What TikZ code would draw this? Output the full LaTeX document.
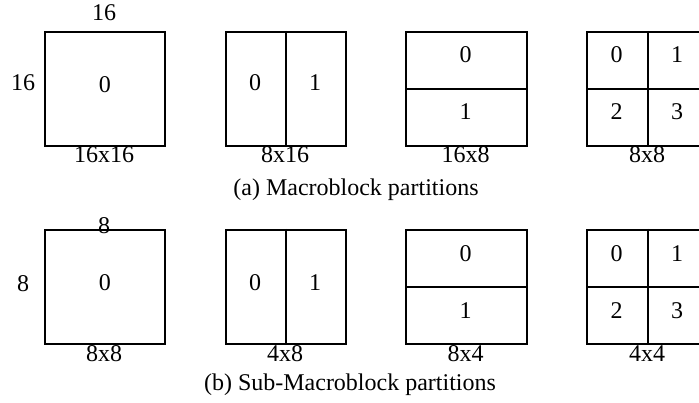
\documentclass[tikz,border=0pt]{standalone}
\usepackage{fontspec}
\setmainfont{Liberation Serif}
\begin{document}
\begin{tikzpicture}[x=1pt,y=-1pt,
  blk/.style={draw, line width=1.6pt, minimum width=#1, minimum height=114pt, inner sep=0pt, anchor=north west},
  blk/.default=120pt,
  part/.style={line width=1.6pt},
  num/.style={font=\fontsize{24}{26}\selectfont, inner sep=0pt, text height=0.68em, text depth=0pt},
  caption/.style={font=\fontsize{24}{26}\selectfont, inner sep=0pt, anchor=base}]
\useasboundingbox (0,0) rectangle (699,403);
\clip (0,0) rectangle (699,403);

% ---- row (a): macroblock partitions ----
\node[blk] (a1) at (44,31) {};
\node[blk] (a2) at (225,31) {};
\node[blk=121pt] (a3) at (405,31) {};
\node[blk=122pt] (a4) at (586,31) {};
\draw[part] (a2.north) -- (a2.south);
\draw[part] (a3.west) -- (a3.east);
\draw[part] (a4.north) -- (a4.south);
\draw[part] (a4.west) -- (a4.east);

\node[num] (a1t) at (104,17) {16};
\node[num] (a1l) at (23,87) {16};
\node[num] (a1c) at (a1.center) {0};
\node[num] (a2c0) at (255,87) {0};
\node[num] (a2c1) at (315,87) {1};
\node[num] (a3c0) at (465.5,59) {0};
\node[num] (a3c1) at (465.5,116) {1};
\node[num] (a4c0) at (616.5,59) {0};
\node[num] (a4c1) at (677,59) {1};
\node[num] (a4c2) at (616.5,116) {2};
\node[num] (a4c3) at (677,116) {3};

\node[num] (a1s) at (104,159) {16x16};
\node[num] (a2s) at (285,159) {8x16};
\node[num] (a3s) at (465.5,159) {16x8};
\node[num] (a4s) at (647,159) {8x8};
\node[caption] (acap) at (356,196) {(a) Macroblock partitions};

% ---- row (b): sub-macroblock partitions ----
\node[blk] (b1) at (44,229) {};
\node[blk] (b2) at (225,229) {};
\node[blk=121pt] (b3) at (405,229) {};
\node[blk=122pt] (b4) at (586,229) {};
\draw[part] (b2.north) -- (b2.south);
\draw[part] (b3.west) -- (b3.east);
\draw[part] (b4.north) -- (b4.south);
\draw[part] (b4.west) -- (b4.east);

\node[num] (b1t) at (104,230) {8};
\node[num] (b1l) at (23,288) {8};
\node[num] (b1c) at (b1.center) {0};
\node[num] (b2c0) at (255,287) {0};
\node[num] (b2c1) at (315,287) {1};
\node[num] (b3c0) at (465.5,258) {0};
\node[num] (b3c1) at (465.5,315) {1};
\node[num] (b4c0) at (616.5,258) {0};
\node[num] (b4c1) at (677,258) {1};
\node[num] (b4c2) at (616.5,315) {2};
\node[num] (b4c3) at (677,315) {3};

\node[num] (b1s) at (104,358) {8x8};
\node[num] (b2s) at (285,358) {4x8};
\node[num] (b3s) at (465.5,358) {8x4};
\node[num] (b4s) at (647,358) {4x4};
\node[caption] (bcap) at (350,391) {(b) Sub-Macroblock partitions};
\end{tikzpicture}
\end{document}
